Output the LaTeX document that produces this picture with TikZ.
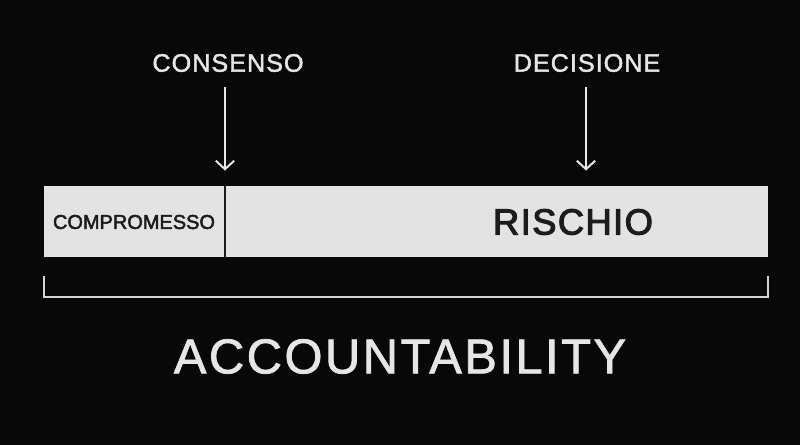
\documentclass[tikz,border=0pt]{standalone}
\usepackage{fontspec}
\setmainfont{Liberation Sans}
\usetikzlibrary{arrows.meta}

\definecolor{bg}{HTML}{080808}
\definecolor{ink}{HTML}{E6E6E6}
\definecolor{barfill}{HTML}{E3E3E3}
\definecolor{bartext}{HTML}{1C1C1C}

\tikzset{
  toplabel/.style={inner sep=0pt, text=ink,
    font=\fontsize{17.9}{18}\selectfont\addfontfeature{LetterSpace=4, FakeBold=1.8}},
  barpart/.style={fill=barfill, inner sep=0pt, anchor=north west,
    minimum height=1.775cm},
  marker/.style={draw=ink, line width=1.4pt,
    -{Straight Barb[length=6pt, width=13pt, line width=1.4pt]}},
}

\begin{document}
\begin{tikzpicture}[x=0.025cm, y=-0.025cm]
  % Background
  \fill [bg] (0, 0) rectangle (800, 445);
  \useasboundingbox (0, 0) rectangle (800, 445);

  % Bar
  \node (comp) [barpart, minimum width=4.525cm] at (44, 186) {};
  \node (risk) [barpart, minimum width=13.575cm] at (225, 186) {};
  \draw [bartext, line width=1.8pt] (risk.north west) -- (risk.south west);
  \node (compt) [inner sep=0pt, text=bartext,
        font=\fontsize{14.2}{15}\selectfont\addfontfeature{FakeBold=2.5}]
        at (134, 222) {COMPROMESSO};
  \node (riskt) [inner sep=0pt, text=bartext,
        font=\fontsize{25.8}{26}\selectfont\addfontfeature{LetterSpace=4, FakeBold=3}]
        at (573, 222) {RISCHIO};

  % Labels
  \node (cons) [toplabel] at (228, 63) {CONSENSO};
  \node (deci) [toplabel] at (587, 63) {DECISIONE};
  \coordinate (deci tip) at (586, 186);
  \draw [marker, shorten <=10.5pt, shorten >=11pt]
        (cons.south -| risk.north west) -- (risk.north west);
  \draw [marker, shorten <=10.5pt, shorten >=11pt]
        (deci.south -| deci tip) -- (deci tip);

  % Bracket
  \draw [draw=ink!92!black, line width=1.9pt]
        (44, 276) |- (768, 297) -- (768, 276);
  \node (acc) [inner sep=0pt, text=ink,
        font=\fontsize{34.8}{35}\selectfont\addfontfeature{LetterSpace=5, FakeBold=1.5}]
        at (400, 356.5) {ACCOUNTABILITY};
\end{tikzpicture}
\end{document}
